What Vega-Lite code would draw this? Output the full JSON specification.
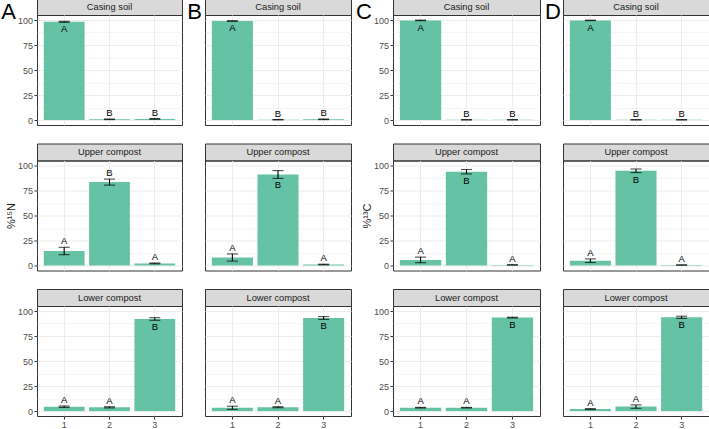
{
  "$schema": "https://vega.github.io/schema/vega-lite/v6.json",
  "padding": {"left": 0, "top": -3, "right": 0, "bottom": 0},
  "config": {
    "font": "Liberation Sans",
    "view": {"stroke": "#333333", "strokeWidth": 1},
    "axis": {"labelFontSize": 9, "labelColor": "#4D4D4D", "tickColor": "#333333", "tickSize": 3, "gridColor": "#EBEBEB", "domain": false, "labelPadding": 1.5, "titleFontSize": 11, "titleFontWeight": "normal", "titleColor": "#1A1A1A", "titlePadding": 1}
  },
  "data": {"values": [
    {"panel": "A", "compartment": "Casing soil", "type": 1, "mean": 98.2, "se": 0.5, "letter": "A"},
    {"panel": "A", "compartment": "Casing soil", "type": 2, "mean": 0.7, "se": 0.3, "letter": "B"},
    {"panel": "A", "compartment": "Casing soil", "type": 3, "mean": 1.1, "se": 0.4, "letter": "B"},
    {"panel": "A", "compartment": "Upper compost", "type": 1, "mean": 14.5, "se": 3.7, "letter": "A"},
    {"panel": "A", "compartment": "Upper compost", "type": 2, "mean": 83.4, "se": 3.0, "letter": "B"},
    {"panel": "A", "compartment": "Upper compost", "type": 3, "mean": 2.1, "se": 0.4, "letter": "A"},
    {"panel": "A", "compartment": "Lower compost", "type": 1, "mean": 4.3, "se": 0.7, "letter": "A"},
    {"panel": "A", "compartment": "Lower compost", "type": 2, "mean": 3.7, "se": 0.6, "letter": "A"},
    {"panel": "A", "compartment": "Lower compost", "type": 3, "mean": 92.0, "se": 1.3, "letter": "B"},
    {"panel": "B", "compartment": "Casing soil", "type": 1, "mean": 99.0, "se": 0.3, "letter": "A"},
    {"panel": "B", "compartment": "Casing soil", "type": 2, "mean": 0.3, "se": 0.2, "letter": "B"},
    {"panel": "B", "compartment": "Casing soil", "type": 3, "mean": 0.7, "se": 0.3, "letter": "B"},
    {"panel": "B", "compartment": "Upper compost", "type": 1, "mean": 8.0, "se": 3.6, "letter": "A"},
    {"panel": "B", "compartment": "Upper compost", "type": 2, "mean": 91.0, "se": 3.9, "letter": "B"},
    {"panel": "B", "compartment": "Upper compost", "type": 3, "mean": 1.0, "se": 0.3, "letter": "A"},
    {"panel": "B", "compartment": "Lower compost", "type": 1, "mean": 3.2, "se": 1.6, "letter": "A"},
    {"panel": "B", "compartment": "Lower compost", "type": 2, "mean": 3.8, "se": 0.5, "letter": "A"},
    {"panel": "B", "compartment": "Lower compost", "type": 3, "mean": 93.0, "se": 1.4, "letter": "B"},
    {"panel": "C", "compartment": "Casing soil", "type": 1, "mean": 99.6, "se": 0.3, "letter": "A"},
    {"panel": "C", "compartment": "Casing soil", "type": 2, "mean": 0.2, "se": 0.1, "letter": "B"},
    {"panel": "C", "compartment": "Casing soil", "type": 3, "mean": 0.2, "se": 0.1, "letter": "B"},
    {"panel": "C", "compartment": "Upper compost", "type": 1, "mean": 5.6, "se": 2.8, "letter": "A"},
    {"panel": "C", "compartment": "Upper compost", "type": 2, "mean": 93.8, "se": 2.2, "letter": "B"},
    {"panel": "C", "compartment": "Upper compost", "type": 3, "mean": 0.6, "se": 0.2, "letter": "A"},
    {"panel": "C", "compartment": "Lower compost", "type": 1, "mean": 3.3, "se": 0.3, "letter": "A"},
    {"panel": "C", "compartment": "Lower compost", "type": 2, "mean": 3.3, "se": 0.3, "letter": "A"},
    {"panel": "C", "compartment": "Lower compost", "type": 3, "mean": 93.4, "se": 0.4, "letter": "B"},
    {"panel": "D", "compartment": "Casing soil", "type": 1, "mean": 99.6, "se": 0.2, "letter": "A"},
    {"panel": "D", "compartment": "Casing soil", "type": 2, "mean": 0.2, "se": 0.1, "letter": "B"},
    {"panel": "D", "compartment": "Casing soil", "type": 3, "mean": 0.2, "se": 0.1, "letter": "B"},
    {"panel": "D", "compartment": "Upper compost", "type": 1, "mean": 4.8, "se": 1.8, "letter": "A"},
    {"panel": "D", "compartment": "Upper compost", "type": 2, "mean": 94.7, "se": 1.8, "letter": "B"},
    {"panel": "D", "compartment": "Upper compost", "type": 3, "mean": 0.5, "se": 0.1, "letter": "A"},
    {"panel": "D", "compartment": "Lower compost", "type": 1, "mean": 1.9, "se": 0.5, "letter": "A"},
    {"panel": "D", "compartment": "Lower compost", "type": 2, "mean": 4.4, "se": 1.7, "letter": "A"},
    {"panel": "D", "compartment": "Lower compost", "type": 3, "mean": 93.7, "se": 1.1, "letter": "B"}
  ]},
  "spacing": 3,
  "hconcat": [
    {"spacing": 16.5, "vconcat": [
      {"spacing": 0, "bounds": "flush", "vconcat": [
        {"width": 145, "height": 17, "title": {"text": "A", "orient": "left", "angle": 0, "anchor": "end", "align": "left", "baseline": "top", "dy": 4, "fontSize": 22, "fontWeight": "normal", "color": "#000000", "offset": 21},
         "transform": [{"filter": "datum.panel === 'A' && datum.compartment === 'Casing soil' && datum.type === 1"}],
         "mark": {"type": "text", "fontSize": 9.3, "color": "#1A1A1A"}, "encoding": {"text": {"field": "compartment", "type": "nominal"}}, "view": {"fill": "#D9D9D9", "stroke": "#333333"}},
        {"width": 145, "height": 110,
         "transform": [{"filter": "datum.panel === 'A' && datum.compartment === 'Casing soil'"}],
         "encoding": {"x": {"field": "type", "type": "ordinal", "scale": {"paddingInner": 0.1, "paddingOuter": 0.15}, "axis": {"title": null, "labels": false, "ticks": false, "grid": true, "bandPosition": 0.5, "gridWidth": 0.9, "minExtent": 0, "maxExtent": 0}}},
         "layer": [
          {"mark": {"type": "bar", "color": "#66C2A5"}, "encoding": {"y": {"field": "mean", "type": "quantitative", "title": null, "scale": {"domain": [-5, 105], "nice": false}, "axis": {"values": [0, 12.5, 25, 37.5, 50, 62.5, 75, 87.5, 100], "tickCount": 20, "labelExpr": "datum.value % 25 === 0 ? datum.label : ''", "labelOverlap": false, "minExtent": 20, "maxExtent": 20, "tickOpacity": {"condition": {"test": "datum.value % 25 === 0", "value": 1}, "value": 0}, "gridWidth": {"condition": {"test": "datum.value % 25 === 0", "value": 0.9}, "value": 0.45}}}}},
          {"mark": {"type": "errorbar", "ticks": {"size": 11}, "thickness": 1.1, "color": "#000000"}, "encoding": {"y": {"field": "mean", "type": "quantitative", "title": null}, "yError": {"field": "se"}}},
          {"transform": [{"filter": "datum.mean + datum.se <= 90"}, {"calculate": "datum.mean + datum.se", "as": "ly"}], "mark": {"type": "text", "baseline": "alphabetic", "dy": -3, "fontSize": 9.5, "color": "#000000"}, "encoding": {"y": {"field": "ly", "type": "quantitative", "title": null}, "text": {"field": "letter", "type": "nominal"}}},
          {"transform": [{"filter": "datum.mean + datum.se > 90"}, {"calculate": "datum.mean - datum.se", "as": "ly"}], "mark": {"type": "text", "baseline": "top", "dy": 2, "fontSize": 9.5, "color": "#000000"}, "encoding": {"y": {"field": "ly", "type": "quantitative", "title": null}, "text": {"field": "letter", "type": "nominal"}}}
         ]}
      ]},
      {"spacing": 0, "bounds": "flush", "vconcat": [
        {"width": 145, "height": 17,
         "transform": [{"filter": "datum.panel === 'A' && datum.compartment === 'Upper compost' && datum.type === 1"}],
         "mark": {"type": "text", "fontSize": 9.3, "color": "#1A1A1A"}, "encoding": {"text": {"field": "compartment", "type": "nominal"}}, "view": {"fill": "#D9D9D9", "stroke": "#333333"}},
        {"width": 145, "height": 110,
         "transform": [{"filter": "datum.panel === 'A' && datum.compartment === 'Upper compost'"}],
         "encoding": {"x": {"field": "type", "type": "ordinal", "scale": {"paddingInner": 0.1, "paddingOuter": 0.15}, "axis": {"title": null, "labels": false, "ticks": false, "grid": true, "bandPosition": 0.5, "gridWidth": 0.9, "minExtent": 0, "maxExtent": 0}}},
         "layer": [
          {"mark": {"type": "bar", "color": "#66C2A5"}, "encoding": {"y": {"field": "mean", "type": "quantitative", "title": "%¹⁵N", "scale": {"domain": [-5, 105], "nice": false}, "axis": {"values": [0, 12.5, 25, 37.5, 50, 62.5, 75, 87.5, 100], "tickCount": 20, "labelExpr": "datum.value % 25 === 0 ? datum.label : ''", "labelOverlap": false, "minExtent": 20, "maxExtent": 20, "tickOpacity": {"condition": {"test": "datum.value % 25 === 0", "value": 1}, "value": 0}, "gridWidth": {"condition": {"test": "datum.value % 25 === 0", "value": 0.9}, "value": 0.45}}}}},
          {"mark": {"type": "errorbar", "ticks": {"size": 11}, "thickness": 1.1, "color": "#000000"}, "encoding": {"y": {"field": "mean", "type": "quantitative", "title": "%¹⁵N"}, "yError": {"field": "se"}}},
          {"transform": [{"filter": "datum.mean + datum.se <= 90"}, {"calculate": "datum.mean + datum.se", "as": "ly"}], "mark": {"type": "text", "baseline": "alphabetic", "dy": -3, "fontSize": 9.5, "color": "#000000"}, "encoding": {"y": {"field": "ly", "type": "quantitative", "title": "%¹⁵N"}, "text": {"field": "letter", "type": "nominal"}}},
          {"transform": [{"filter": "datum.mean + datum.se > 90"}, {"calculate": "datum.mean - datum.se", "as": "ly"}], "mark": {"type": "text", "baseline": "top", "dy": 2, "fontSize": 9.5, "color": "#000000"}, "encoding": {"y": {"field": "ly", "type": "quantitative", "title": "%¹⁵N"}, "text": {"field": "letter", "type": "nominal"}}}
         ]}
      ]},
      {"spacing": 0, "bounds": "flush", "vconcat": [
        {"width": 145, "height": 17,
         "transform": [{"filter": "datum.panel === 'A' && datum.compartment === 'Lower compost' && datum.type === 1"}],
         "mark": {"type": "text", "fontSize": 9.3, "color": "#1A1A1A"}, "encoding": {"text": {"field": "compartment", "type": "nominal"}}, "view": {"fill": "#D9D9D9", "stroke": "#333333"}},
        {"width": 145, "height": 110,
         "transform": [{"filter": "datum.panel === 'A' && datum.compartment === 'Lower compost'"}],
         "encoding": {"x": {"field": "type", "type": "ordinal", "scale": {"paddingInner": 0.1, "paddingOuter": 0.15}, "axis": {"title": null, "labelAngle": 0, "grid": true, "bandPosition": 0.5, "gridWidth": 0.9}}},
         "layer": [
          {"mark": {"type": "bar", "color": "#66C2A5"}, "encoding": {"y": {"field": "mean", "type": "quantitative", "title": null, "scale": {"domain": [-5, 105], "nice": false}, "axis": {"values": [0, 12.5, 25, 37.5, 50, 62.5, 75, 87.5, 100], "tickCount": 20, "labelExpr": "datum.value % 25 === 0 ? datum.label : ''", "labelOverlap": false, "minExtent": 20, "maxExtent": 20, "tickOpacity": {"condition": {"test": "datum.value % 25 === 0", "value": 1}, "value": 0}, "gridWidth": {"condition": {"test": "datum.value % 25 === 0", "value": 0.9}, "value": 0.45}}}}},
          {"mark": {"type": "errorbar", "ticks": {"size": 11}, "thickness": 1.1, "color": "#000000"}, "encoding": {"y": {"field": "mean", "type": "quantitative", "title": null}, "yError": {"field": "se"}}},
          {"transform": [{"filter": "datum.mean + datum.se <= 90"}, {"calculate": "datum.mean + datum.se", "as": "ly"}], "mark": {"type": "text", "baseline": "alphabetic", "dy": -3, "fontSize": 9.5, "color": "#000000"}, "encoding": {"y": {"field": "ly", "type": "quantitative", "title": null}, "text": {"field": "letter", "type": "nominal"}}},
          {"transform": [{"filter": "datum.mean + datum.se > 90"}, {"calculate": "datum.mean - datum.se", "as": "ly"}], "mark": {"type": "text", "baseline": "top", "dy": 2, "fontSize": 9.5, "color": "#000000"}, "encoding": {"y": {"field": "ly", "type": "quantitative", "title": null}, "text": {"field": "letter", "type": "nominal"}}}
         ]}
      ]}
    ]},
    {"spacing": 16.5, "vconcat": [
      {"spacing": 0, "bounds": "flush", "vconcat": [
        {"width": 146, "height": 17, "title": {"text": "B", "orient": "left", "angle": 0, "anchor": "end", "align": "left", "baseline": "top", "dy": 4, "fontSize": 22, "fontWeight": "normal", "color": "#000000", "offset": 3},
         "transform": [{"filter": "datum.panel === 'B' && datum.compartment === 'Casing soil' && datum.type === 1"}],
         "mark": {"type": "text", "fontSize": 9.3, "color": "#1A1A1A"}, "encoding": {"text": {"field": "compartment", "type": "nominal"}}, "view": {"fill": "#D9D9D9", "stroke": "#333333"}},
        {"width": 146, "height": 110,
         "transform": [{"filter": "datum.panel === 'B' && datum.compartment === 'Casing soil'"}],
         "encoding": {"x": {"field": "type", "type": "ordinal", "scale": {"paddingInner": 0.1, "paddingOuter": 0.15}, "axis": {"title": null, "labels": false, "ticks": false, "grid": true, "bandPosition": 0.5, "gridWidth": 0.9, "minExtent": 0, "maxExtent": 0}}},
         "layer": [
          {"mark": {"type": "bar", "color": "#66C2A5"}, "encoding": {"y": {"field": "mean", "type": "quantitative", "title": null, "scale": {"domain": [-5, 105], "nice": false}, "axis": {"labels": false, "ticks": false, "values": [0, 12.5, 25, 37.5, 50, 62.5, 75, 87.5, 100], "tickCount": 20, "minExtent": 0, "maxExtent": 0, "gridWidth": {"condition": {"test": "datum.value % 25 === 0", "value": 0.9}, "value": 0.45}}}}},
          {"mark": {"type": "errorbar", "ticks": {"size": 11}, "thickness": 1.1, "color": "#000000"}, "encoding": {"y": {"field": "mean", "type": "quantitative", "title": null}, "yError": {"field": "se"}}},
          {"transform": [{"filter": "datum.mean + datum.se <= 90"}, {"calculate": "datum.mean + datum.se", "as": "ly"}], "mark": {"type": "text", "baseline": "alphabetic", "dy": -3, "fontSize": 9.5, "color": "#000000"}, "encoding": {"y": {"field": "ly", "type": "quantitative", "title": null}, "text": {"field": "letter", "type": "nominal"}}},
          {"transform": [{"filter": "datum.mean + datum.se > 90"}, {"calculate": "datum.mean - datum.se", "as": "ly"}], "mark": {"type": "text", "baseline": "top", "dy": 2, "fontSize": 9.5, "color": "#000000"}, "encoding": {"y": {"field": "ly", "type": "quantitative", "title": null}, "text": {"field": "letter", "type": "nominal"}}}
         ]}
      ]},
      {"spacing": 0, "bounds": "flush", "vconcat": [
        {"width": 146, "height": 17,
         "transform": [{"filter": "datum.panel === 'B' && datum.compartment === 'Upper compost' && datum.type === 1"}],
         "mark": {"type": "text", "fontSize": 9.3, "color": "#1A1A1A"}, "encoding": {"text": {"field": "compartment", "type": "nominal"}}, "view": {"fill": "#D9D9D9", "stroke": "#333333"}},
        {"width": 146, "height": 110,
         "transform": [{"filter": "datum.panel === 'B' && datum.compartment === 'Upper compost'"}],
         "encoding": {"x": {"field": "type", "type": "ordinal", "scale": {"paddingInner": 0.1, "paddingOuter": 0.15}, "axis": {"title": null, "labels": false, "ticks": false, "grid": true, "bandPosition": 0.5, "gridWidth": 0.9, "minExtent": 0, "maxExtent": 0}}},
         "layer": [
          {"mark": {"type": "bar", "color": "#66C2A5"}, "encoding": {"y": {"field": "mean", "type": "quantitative", "title": null, "scale": {"domain": [-5, 105], "nice": false}, "axis": {"labels": false, "ticks": false, "values": [0, 12.5, 25, 37.5, 50, 62.5, 75, 87.5, 100], "tickCount": 20, "minExtent": 0, "maxExtent": 0, "gridWidth": {"condition": {"test": "datum.value % 25 === 0", "value": 0.9}, "value": 0.45}}}}},
          {"mark": {"type": "errorbar", "ticks": {"size": 11}, "thickness": 1.1, "color": "#000000"}, "encoding": {"y": {"field": "mean", "type": "quantitative", "title": null}, "yError": {"field": "se"}}},
          {"transform": [{"filter": "datum.mean + datum.se <= 90"}, {"calculate": "datum.mean + datum.se", "as": "ly"}], "mark": {"type": "text", "baseline": "alphabetic", "dy": -3, "fontSize": 9.5, "color": "#000000"}, "encoding": {"y": {"field": "ly", "type": "quantitative", "title": null}, "text": {"field": "letter", "type": "nominal"}}},
          {"transform": [{"filter": "datum.mean + datum.se > 90"}, {"calculate": "datum.mean - datum.se", "as": "ly"}], "mark": {"type": "text", "baseline": "top", "dy": 2, "fontSize": 9.5, "color": "#000000"}, "encoding": {"y": {"field": "ly", "type": "quantitative", "title": null}, "text": {"field": "letter", "type": "nominal"}}}
         ]}
      ]},
      {"spacing": 0, "bounds": "flush", "vconcat": [
        {"width": 146, "height": 17,
         "transform": [{"filter": "datum.panel === 'B' && datum.compartment === 'Lower compost' && datum.type === 1"}],
         "mark": {"type": "text", "fontSize": 9.3, "color": "#1A1A1A"}, "encoding": {"text": {"field": "compartment", "type": "nominal"}}, "view": {"fill": "#D9D9D9", "stroke": "#333333"}},
        {"width": 146, "height": 110,
         "transform": [{"filter": "datum.panel === 'B' && datum.compartment === 'Lower compost'"}],
         "encoding": {"x": {"field": "type", "type": "ordinal", "scale": {"paddingInner": 0.1, "paddingOuter": 0.15}, "axis": {"title": null, "labelAngle": 0, "grid": true, "bandPosition": 0.5, "gridWidth": 0.9}}},
         "layer": [
          {"mark": {"type": "bar", "color": "#66C2A5"}, "encoding": {"y": {"field": "mean", "type": "quantitative", "title": null, "scale": {"domain": [-5, 105], "nice": false}, "axis": {"labels": false, "ticks": false, "values": [0, 12.5, 25, 37.5, 50, 62.5, 75, 87.5, 100], "tickCount": 20, "minExtent": 0, "maxExtent": 0, "gridWidth": {"condition": {"test": "datum.value % 25 === 0", "value": 0.9}, "value": 0.45}}}}},
          {"mark": {"type": "errorbar", "ticks": {"size": 11}, "thickness": 1.1, "color": "#000000"}, "encoding": {"y": {"field": "mean", "type": "quantitative", "title": null}, "yError": {"field": "se"}}},
          {"transform": [{"filter": "datum.mean + datum.se <= 90"}, {"calculate": "datum.mean + datum.se", "as": "ly"}], "mark": {"type": "text", "baseline": "alphabetic", "dy": -3, "fontSize": 9.5, "color": "#000000"}, "encoding": {"y": {"field": "ly", "type": "quantitative", "title": null}, "text": {"field": "letter", "type": "nominal"}}},
          {"transform": [{"filter": "datum.mean + datum.se > 90"}, {"calculate": "datum.mean - datum.se", "as": "ly"}], "mark": {"type": "text", "baseline": "top", "dy": 2, "fontSize": 9.5, "color": "#000000"}, "encoding": {"y": {"field": "ly", "type": "quantitative", "title": null}, "text": {"field": "letter", "type": "nominal"}}}
         ]}
      ]}
    ]},
    {"spacing": 16.5, "vconcat": [
      {"spacing": 0, "bounds": "flush", "vconcat": [
        {"width": 147, "height": 17, "title": {"text": "C", "orient": "left", "angle": 0, "anchor": "end", "align": "left", "baseline": "top", "dy": 4, "fontSize": 22, "fontWeight": "normal", "color": "#000000", "offset": 21},
         "transform": [{"filter": "datum.panel === 'C' && datum.compartment === 'Casing soil' && datum.type === 1"}],
         "mark": {"type": "text", "fontSize": 9.3, "color": "#1A1A1A"}, "encoding": {"text": {"field": "compartment", "type": "nominal"}}, "view": {"fill": "#D9D9D9", "stroke": "#333333"}},
        {"width": 147, "height": 110,
         "transform": [{"filter": "datum.panel === 'C' && datum.compartment === 'Casing soil'"}],
         "encoding": {"x": {"field": "type", "type": "ordinal", "scale": {"paddingInner": 0.1, "paddingOuter": 0.15}, "axis": {"title": null, "labels": false, "ticks": false, "grid": true, "bandPosition": 0.5, "gridWidth": 0.9, "minExtent": 0, "maxExtent": 0}}},
         "layer": [
          {"mark": {"type": "bar", "color": "#66C2A5"}, "encoding": {"y": {"field": "mean", "type": "quantitative", "title": null, "scale": {"domain": [-5, 105], "nice": false}, "axis": {"values": [0, 12.5, 25, 37.5, 50, 62.5, 75, 87.5, 100], "tickCount": 20, "labelExpr": "datum.value % 25 === 0 ? datum.label : ''", "labelOverlap": false, "minExtent": 20, "maxExtent": 20, "tickOpacity": {"condition": {"test": "datum.value % 25 === 0", "value": 1}, "value": 0}, "gridWidth": {"condition": {"test": "datum.value % 25 === 0", "value": 0.9}, "value": 0.45}}}}},
          {"mark": {"type": "errorbar", "ticks": {"size": 11}, "thickness": 1.1, "color": "#000000"}, "encoding": {"y": {"field": "mean", "type": "quantitative", "title": null}, "yError": {"field": "se"}}},
          {"transform": [{"filter": "datum.mean + datum.se <= 90"}, {"calculate": "datum.mean + datum.se", "as": "ly"}], "mark": {"type": "text", "baseline": "alphabetic", "dy": -3, "fontSize": 9.5, "color": "#000000"}, "encoding": {"y": {"field": "ly", "type": "quantitative", "title": null}, "text": {"field": "letter", "type": "nominal"}}},
          {"transform": [{"filter": "datum.mean + datum.se > 90"}, {"calculate": "datum.mean - datum.se", "as": "ly"}], "mark": {"type": "text", "baseline": "top", "dy": 2, "fontSize": 9.5, "color": "#000000"}, "encoding": {"y": {"field": "ly", "type": "quantitative", "title": null}, "text": {"field": "letter", "type": "nominal"}}}
         ]}
      ]},
      {"spacing": 0, "bounds": "flush", "vconcat": [
        {"width": 147, "height": 17,
         "transform": [{"filter": "datum.panel === 'C' && datum.compartment === 'Upper compost' && datum.type === 1"}],
         "mark": {"type": "text", "fontSize": 9.3, "color": "#1A1A1A"}, "encoding": {"text": {"field": "compartment", "type": "nominal"}}, "view": {"fill": "#D9D9D9", "stroke": "#333333"}},
        {"width": 147, "height": 110,
         "transform": [{"filter": "datum.panel === 'C' && datum.compartment === 'Upper compost'"}],
         "encoding": {"x": {"field": "type", "type": "ordinal", "scale": {"paddingInner": 0.1, "paddingOuter": 0.15}, "axis": {"title": null, "labels": false, "ticks": false, "grid": true, "bandPosition": 0.5, "gridWidth": 0.9, "minExtent": 0, "maxExtent": 0}}},
         "layer": [
          {"mark": {"type": "bar", "color": "#66C2A5"}, "encoding": {"y": {"field": "mean", "type": "quantitative", "title": "%¹³C", "scale": {"domain": [-5, 105], "nice": false}, "axis": {"values": [0, 12.5, 25, 37.5, 50, 62.5, 75, 87.5, 100], "tickCount": 20, "labelExpr": "datum.value % 25 === 0 ? datum.label : ''", "labelOverlap": false, "minExtent": 20, "maxExtent": 20, "tickOpacity": {"condition": {"test": "datum.value % 25 === 0", "value": 1}, "value": 0}, "gridWidth": {"condition": {"test": "datum.value % 25 === 0", "value": 0.9}, "value": 0.45}}}}},
          {"mark": {"type": "errorbar", "ticks": {"size": 11}, "thickness": 1.1, "color": "#000000"}, "encoding": {"y": {"field": "mean", "type": "quantitative", "title": "%¹³C"}, "yError": {"field": "se"}}},
          {"transform": [{"filter": "datum.mean + datum.se <= 90"}, {"calculate": "datum.mean + datum.se", "as": "ly"}], "mark": {"type": "text", "baseline": "alphabetic", "dy": -3, "fontSize": 9.5, "color": "#000000"}, "encoding": {"y": {"field": "ly", "type": "quantitative", "title": "%¹³C"}, "text": {"field": "letter", "type": "nominal"}}},
          {"transform": [{"filter": "datum.mean + datum.se > 90"}, {"calculate": "datum.mean - datum.se", "as": "ly"}], "mark": {"type": "text", "baseline": "top", "dy": 2, "fontSize": 9.5, "color": "#000000"}, "encoding": {"y": {"field": "ly", "type": "quantitative", "title": "%¹³C"}, "text": {"field": "letter", "type": "nominal"}}}
         ]}
      ]},
      {"spacing": 0, "bounds": "flush", "vconcat": [
        {"width": 147, "height": 17,
         "transform": [{"filter": "datum.panel === 'C' && datum.compartment === 'Lower compost' && datum.type === 1"}],
         "mark": {"type": "text", "fontSize": 9.3, "color": "#1A1A1A"}, "encoding": {"text": {"field": "compartment", "type": "nominal"}}, "view": {"fill": "#D9D9D9", "stroke": "#333333"}},
        {"width": 147, "height": 110,
         "transform": [{"filter": "datum.panel === 'C' && datum.compartment === 'Lower compost'"}],
         "encoding": {"x": {"field": "type", "type": "ordinal", "scale": {"paddingInner": 0.1, "paddingOuter": 0.15}, "axis": {"title": null, "labelAngle": 0, "grid": true, "bandPosition": 0.5, "gridWidth": 0.9}}},
         "layer": [
          {"mark": {"type": "bar", "color": "#66C2A5"}, "encoding": {"y": {"field": "mean", "type": "quantitative", "title": null, "scale": {"domain": [-5, 105], "nice": false}, "axis": {"values": [0, 12.5, 25, 37.5, 50, 62.5, 75, 87.5, 100], "tickCount": 20, "labelExpr": "datum.value % 25 === 0 ? datum.label : ''", "labelOverlap": false, "minExtent": 20, "maxExtent": 20, "tickOpacity": {"condition": {"test": "datum.value % 25 === 0", "value": 1}, "value": 0}, "gridWidth": {"condition": {"test": "datum.value % 25 === 0", "value": 0.9}, "value": 0.45}}}}},
          {"mark": {"type": "errorbar", "ticks": {"size": 11}, "thickness": 1.1, "color": "#000000"}, "encoding": {"y": {"field": "mean", "type": "quantitative", "title": null}, "yError": {"field": "se"}}},
          {"transform": [{"filter": "datum.mean + datum.se <= 90"}, {"calculate": "datum.mean + datum.se", "as": "ly"}], "mark": {"type": "text", "baseline": "alphabetic", "dy": -3, "fontSize": 9.5, "color": "#000000"}, "encoding": {"y": {"field": "ly", "type": "quantitative", "title": null}, "text": {"field": "letter", "type": "nominal"}}},
          {"transform": [{"filter": "datum.mean + datum.se > 90"}, {"calculate": "datum.mean - datum.se", "as": "ly"}], "mark": {"type": "text", "baseline": "top", "dy": 2, "fontSize": 9.5, "color": "#000000"}, "encoding": {"y": {"field": "ly", "type": "quantitative", "title": null}, "text": {"field": "letter", "type": "nominal"}}}
         ]}
      ]}
    ]},
    {"spacing": 16.5, "vconcat": [
      {"spacing": 0, "bounds": "flush", "vconcat": [
        {"width": 146, "height": 17, "title": {"text": "D", "orient": "left", "angle": 0, "anchor": "end", "align": "left", "baseline": "top", "dy": 4, "fontSize": 22, "fontWeight": "normal", "color": "#000000", "offset": 2},
         "transform": [{"filter": "datum.panel === 'D' && datum.compartment === 'Casing soil' && datum.type === 1"}],
         "mark": {"type": "text", "fontSize": 9.3, "color": "#1A1A1A"}, "encoding": {"text": {"field": "compartment", "type": "nominal"}}, "view": {"fill": "#D9D9D9", "stroke": "#333333"}},
        {"width": 146, "height": 110,
         "transform": [{"filter": "datum.panel === 'D' && datum.compartment === 'Casing soil'"}],
         "encoding": {"x": {"field": "type", "type": "ordinal", "scale": {"paddingInner": 0.1, "paddingOuter": 0.15}, "axis": {"title": null, "labels": false, "ticks": false, "grid": true, "bandPosition": 0.5, "gridWidth": 0.9, "minExtent": 0, "maxExtent": 0}}},
         "layer": [
          {"mark": {"type": "bar", "color": "#66C2A5"}, "encoding": {"y": {"field": "mean", "type": "quantitative", "title": null, "scale": {"domain": [-5, 105], "nice": false}, "axis": {"labels": false, "ticks": false, "values": [0, 12.5, 25, 37.5, 50, 62.5, 75, 87.5, 100], "tickCount": 20, "minExtent": 0, "maxExtent": 0, "gridWidth": {"condition": {"test": "datum.value % 25 === 0", "value": 0.9}, "value": 0.45}}}}},
          {"mark": {"type": "errorbar", "ticks": {"size": 11}, "thickness": 1.1, "color": "#000000"}, "encoding": {"y": {"field": "mean", "type": "quantitative", "title": null}, "yError": {"field": "se"}}},
          {"transform": [{"filter": "datum.mean + datum.se <= 90"}, {"calculate": "datum.mean + datum.se", "as": "ly"}], "mark": {"type": "text", "baseline": "alphabetic", "dy": -3, "fontSize": 9.5, "color": "#000000"}, "encoding": {"y": {"field": "ly", "type": "quantitative", "title": null}, "text": {"field": "letter", "type": "nominal"}}},
          {"transform": [{"filter": "datum.mean + datum.se > 90"}, {"calculate": "datum.mean - datum.se", "as": "ly"}], "mark": {"type": "text", "baseline": "top", "dy": 2, "fontSize": 9.5, "color": "#000000"}, "encoding": {"y": {"field": "ly", "type": "quantitative", "title": null}, "text": {"field": "letter", "type": "nominal"}}}
         ]}
      ]},
      {"spacing": 0, "bounds": "flush", "vconcat": [
        {"width": 146, "height": 17,
         "transform": [{"filter": "datum.panel === 'D' && datum.compartment === 'Upper compost' && datum.type === 1"}],
         "mark": {"type": "text", "fontSize": 9.3, "color": "#1A1A1A"}, "encoding": {"text": {"field": "compartment", "type": "nominal"}}, "view": {"fill": "#D9D9D9", "stroke": "#333333"}},
        {"width": 146, "height": 110,
         "transform": [{"filter": "datum.panel === 'D' && datum.compartment === 'Upper compost'"}],
         "encoding": {"x": {"field": "type", "type": "ordinal", "scale": {"paddingInner": 0.1, "paddingOuter": 0.15}, "axis": {"title": null, "labels": false, "ticks": false, "grid": true, "bandPosition": 0.5, "gridWidth": 0.9, "minExtent": 0, "maxExtent": 0}}},
         "layer": [
          {"mark": {"type": "bar", "color": "#66C2A5"}, "encoding": {"y": {"field": "mean", "type": "quantitative", "title": null, "scale": {"domain": [-5, 105], "nice": false}, "axis": {"labels": false, "ticks": false, "values": [0, 12.5, 25, 37.5, 50, 62.5, 75, 87.5, 100], "tickCount": 20, "minExtent": 0, "maxExtent": 0, "gridWidth": {"condition": {"test": "datum.value % 25 === 0", "value": 0.9}, "value": 0.45}}}}},
          {"mark": {"type": "errorbar", "ticks": {"size": 11}, "thickness": 1.1, "color": "#000000"}, "encoding": {"y": {"field": "mean", "type": "quantitative", "title": null}, "yError": {"field": "se"}}},
          {"transform": [{"filter": "datum.mean + datum.se <= 90"}, {"calculate": "datum.mean + datum.se", "as": "ly"}], "mark": {"type": "text", "baseline": "alphabetic", "dy": -3, "fontSize": 9.5, "color": "#000000"}, "encoding": {"y": {"field": "ly", "type": "quantitative", "title": null}, "text": {"field": "letter", "type": "nominal"}}},
          {"transform": [{"filter": "datum.mean + datum.se > 90"}, {"calculate": "datum.mean - datum.se", "as": "ly"}], "mark": {"type": "text", "baseline": "top", "dy": 2, "fontSize": 9.5, "color": "#000000"}, "encoding": {"y": {"field": "ly", "type": "quantitative", "title": null}, "text": {"field": "letter", "type": "nominal"}}}
         ]}
      ]},
      {"spacing": 0, "bounds": "flush", "vconcat": [
        {"width": 146, "height": 17,
         "transform": [{"filter": "datum.panel === 'D' && datum.compartment === 'Lower compost' && datum.type === 1"}],
         "mark": {"type": "text", "fontSize": 9.3, "color": "#1A1A1A"}, "encoding": {"text": {"field": "compartment", "type": "nominal"}}, "view": {"fill": "#D9D9D9", "stroke": "#333333"}},
        {"width": 146, "height": 110,
         "transform": [{"filter": "datum.panel === 'D' && datum.compartment === 'Lower compost'"}],
         "encoding": {"x": {"field": "type", "type": "ordinal", "scale": {"paddingInner": 0.1, "paddingOuter": 0.15}, "axis": {"title": null, "labelAngle": 0, "grid": true, "bandPosition": 0.5, "gridWidth": 0.9}}},
         "layer": [
          {"mark": {"type": "bar", "color": "#66C2A5"}, "encoding": {"y": {"field": "mean", "type": "quantitative", "title": null, "scale": {"domain": [-5, 105], "nice": false}, "axis": {"labels": false, "ticks": false, "values": [0, 12.5, 25, 37.5, 50, 62.5, 75, 87.5, 100], "tickCount": 20, "minExtent": 0, "maxExtent": 0, "gridWidth": {"condition": {"test": "datum.value % 25 === 0", "value": 0.9}, "value": 0.45}}}}},
          {"mark": {"type": "errorbar", "ticks": {"size": 11}, "thickness": 1.1, "color": "#000000"}, "encoding": {"y": {"field": "mean", "type": "quantitative", "title": null}, "yError": {"field": "se"}}},
          {"transform": [{"filter": "datum.mean + datum.se <= 90"}, {"calculate": "datum.mean + datum.se", "as": "ly"}], "mark": {"type": "text", "baseline": "alphabetic", "dy": -3, "fontSize": 9.5, "color": "#000000"}, "encoding": {"y": {"field": "ly", "type": "quantitative", "title": null}, "text": {"field": "letter", "type": "nominal"}}},
          {"transform": [{"filter": "datum.mean + datum.se > 90"}, {"calculate": "datum.mean - datum.se", "as": "ly"}], "mark": {"type": "text", "baseline": "top", "dy": 2, "fontSize": 9.5, "color": "#000000"}, "encoding": {"y": {"field": "ly", "type": "quantitative", "title": null}, "text": {"field": "letter", "type": "nominal"}}}
         ]}
      ]}
    ]}
  ]
}
